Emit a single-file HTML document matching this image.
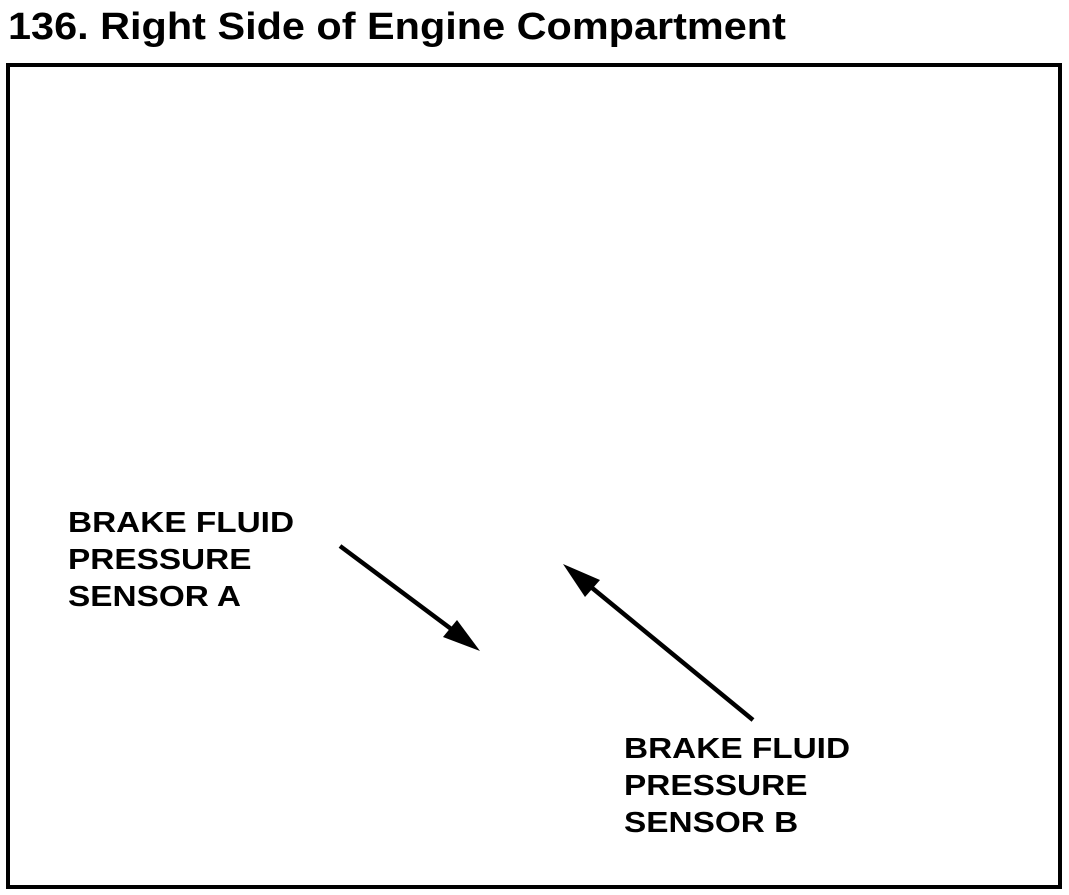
<!DOCTYPE html>
<html><head><style>
html,body{margin:0;padding:0;background:#fff;}
body{width:1069px;height:895px;position:relative;overflow:hidden;font-family:"Liberation Sans",Arial,sans-serif;font-weight:bold;color:#000;}
.t{position:absolute;left:8px;top:4px;font-size:38px;line-height:46px;white-space:nowrap;transform:scaleX(1.09);transform-origin:0 0;}
.l{position:absolute;font-size:29px;line-height:37px;white-space:nowrap;transform:scaleX(1.15);transform-origin:0 0;}
</style></head><body>
<div class="t">136. Right Side of Engine Compartment</div>
<svg width="1069" height="895" style="position:absolute;left:0;top:0">
<rect x="8" y="65" width="1052" height="822" fill="none" stroke="#000" stroke-width="4"/>
<line x1="340" y1="546" x2="462" y2="637" stroke="#000" stroke-width="4.5"/>
<polygon points="480,651 443,637 457,620" fill="#000"/>
<line x1="753" y1="720" x2="580" y2="578" stroke="#000" stroke-width="4.5"/>
<polygon points="563,564 600,580 585,597" fill="#000"/>
</svg>
<div class="l" style="left:68px;top:505px">BRAKE FLUID<br>PRESSURE<br>SENSOR A</div>
<div class="l" style="left:624px;top:731px">BRAKE FLUID<br>PRESSURE<br>SENSOR B</div>
</body></html>
